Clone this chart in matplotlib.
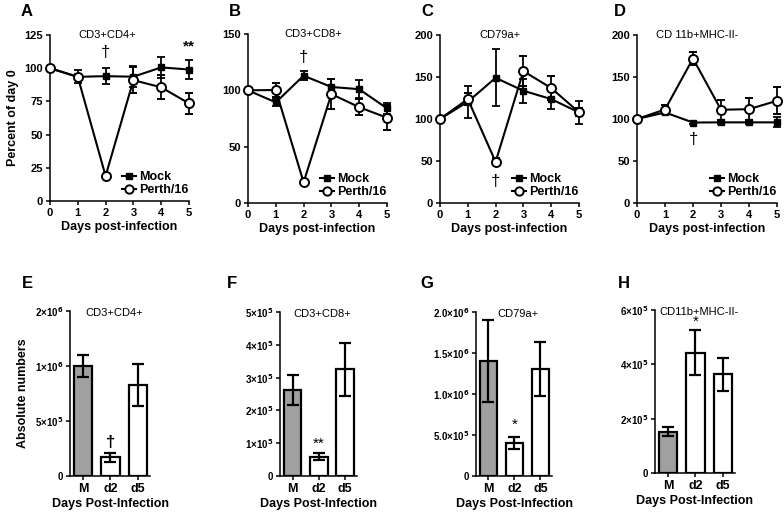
import matplotlib.pyplot as plt
from matplotlib.lines import Line2D
import numpy as np

plt.rcParams['font.family'] = ['Liberation Sans', 'DejaVu Sans']
plt.rcParams['font.weight'] = 'bold'

days = [0, 1, 2, 3, 4, 5]

# top row: percent of day 0 (mean, error)
a_mock = [100, 93.5, 94, 93.6, 100.6, 99]
a_mock_err = [0, 5, 6, 8, 8, 7]
a_perth = [100, 93.4, 18.8, 91, 85.6, 73.5]
a_perth_err = [0, 2, 1, 10, 9, 8]

b_mock = [100, 89.3, 113, 103, 101, 84]
b_mock_err = [0, 3, 4, 7, 8, 5]
b_perth = [100, 100.3, 18.3, 96.7, 85, 75.7]
b_perth_err = [0, 6, 1, 13, 7, 11]

c_mock = [100, 120.5, 149, 133.6, 123.7, 107.8]
c_mock_err = [0, 19, 34, 14, 12, 14]
c_perth = [100, 123.7, 49, 157, 136.8, 108]
c_perth_err = [0, 7, 4, 18, 14, 5]

d_mock = [100, 107.8, 95.8, 96, 96, 96]
d_mock_err = [0, 2, 2, 2, 2, 6]
d_perth = [100, 111.3, 172, 111, 111.7, 121.7]
d_perth_err = [0, 5, 8, 12, 13, 16]

# bottom row: absolute numbers
groups = ['M', 'd2', 'd5']
e_vals = [1.0e6, 0.17e6, 0.83e6]
e_err = [0.1e6, 0.04e6, 0.19e6]
f_vals = [2.62e5, 0.59e5, 3.25e5]
f_err = [0.47e5, 0.11e5, 0.82e5]
g_vals = [1.40e6, 0.40e6, 1.31e6]
g_err = [0.5e6, 0.07e6, 0.33e6]
h_vals = [1.52e5, 4.43e5, 3.64e5]
h_err = [0.17e5, 0.82e5, 0.61e5]

fig = plt.figure(figsize=(7.84, 5.14), dpi=100)
W, H = 784, 514


def px_axes(x0, x1, ytop, ybot):
    return fig.add_axes([x0 / W, 1 - ybot / H, (x1 - x0) / W, (ybot - ytop) / H])


def style(ax):
    for s in ['top', 'right']:
        ax.spines[s].set_visible(False)
    for s in ['left', 'bottom']:
        ax.spines[s].set_linewidth(1.1)
    ax.tick_params(direction='out', length=3, width=1.1, labelsize=8, pad=2)
    for lab in ax.get_xticklabels() + ax.get_yticklabels():
        lab.set_fontweight('bold')


legend_handles = [
    Line2D([0], [0], color='black', lw=1.5, marker='s', ms=5, mfc='black', mec='black'),
    Line2D([0], [0], color='black', lw=1.5, marker='o', ms=6, mfc='white', mec='black', mew=1.4),
]


def line_panel(box, mock, mock_err, perth, perth_err, ymax, ystep, title, title_x, ylabel=None):
    ax = px_axes(*box)
    ax.errorbar(days, mock, yerr=mock_err, color='black', lw=1.5, marker='s', ms=5,
                mfc='black', mec='black', capsize=3, elinewidth=1.3, capthick=1.3,
                clip_on=False, zorder=3)
    ax.errorbar(days, perth, yerr=perth_err, color='black', lw=1.5, marker='o', ms=6.5,
                mfc='white', mec='black', mew=1.4, capsize=3, elinewidth=1.3, capthick=1.3,
                clip_on=False, zorder=4)
    ax.set_xlim(0, 5)
    ax.set_ylim(0, ymax)
    ax.set_xticks(days)
    ax.set_yticks(np.arange(0, ymax + 1, ystep))
    style(ax)
    ax.set_xlabel('Days post-infection', fontsize=9, fontweight='bold', labelpad=2)
    if ylabel:
        ax.set_ylabel(ylabel, fontsize=9, fontweight='bold', labelpad=4)
    ax.text(title_x, 1.0, title, transform=ax.transAxes, ha='center', va='center',
            fontsize=8, fontweight='normal')
    ax.legend(legend_handles, ['Mock', 'Perth/16'], loc='lower left',
              bbox_to_anchor=(0.52, 0.03), frameon=False, prop={'size': 9, 'weight': 'bold'},
              handlelength=1.1, handletextpad=0.25, labelspacing=0.05,
              borderpad=0, borderaxespad=0)
    return ax


def bar_panel(box, vals, err, ymax, yticks, ylabels, title, ylabel=None):
    ax = px_axes(*box)
    x = np.arange(len(groups))
    ax.bar(x, vals, width=0.67, color=['#a0a0a0', 'white', 'white'], edgecolor='black',
           linewidth=1.6, zorder=2)
    ax.errorbar(x, vals, yerr=err, fmt='none', ecolor='black', elinewidth=1.6,
                capsize=4, capthick=1.6, zorder=3)
    ax.set_xlim(-0.48, 2.45)
    ax.set_ylim(0, ymax)
    ax.set_xticks(x)
    ax.set_xticklabels(groups)
    ax.set_yticks(yticks)
    ax.set_yticklabels(ylabels)
    style(ax)
    ax.tick_params(axis='x', labelsize=9)
    ax.tick_params(axis='y', labelsize=7)
    ax.set_xlabel('Days Post-Infection', fontsize=9, fontweight='bold', labelpad=2)
    if ylabel:
        ax.set_ylabel(ylabel, fontsize=9, fontweight='bold', labelpad=4)
    ax.text(0.55, 0.99, title, transform=ax.transAxes, ha='center', va='center',
            fontsize=8, fontweight='normal')
    return ax


axA = line_panel((50, 189, 35, 201), a_mock, a_mock_err, a_perth, a_perth_err, 125, 25,
                 'CD3+CD4+', 0.41, ylabel='Percent of day 0')
axA.text(2, 112, '†', ha='center', va='center', fontsize=12, fontweight='normal')
axA.text(5, 116, '**', ha='center', va='center', fontsize=11)

axB = line_panel((248, 387, 34, 203), b_mock, b_mock_err, b_perth, b_perth_err, 150, 50,
                 'CD3+CD8+', 0.47)
axB.text(2, 129, '†', ha='center', va='center', fontsize=12, fontweight='normal')

axC = line_panel((440, 579, 35, 203), c_mock, c_mock_err, c_perth, c_perth_err, 200, 50,
                 'CD79a+', 0.43)
axC.text(2, 25, '†', ha='center', va='center', fontsize=12, fontweight='normal')

axD = line_panel((637, 777, 35, 203), d_mock, d_mock_err, d_perth, d_perth_err, 200, 50,
                 'CD 11b+MHC-II-', 0.43)
axD.text(2, 75, '†', ha='center', va='center', fontsize=12, fontweight='normal')

axE = bar_panel((70, 150, 311, 476), e_vals, e_err, 1.5e6, [0, 5e5, 1e6, 1.5e6],
                ['0', '5×10$^5$', '1×10$^6$', '2×10$^6$'], 'CD3+CD4+', ylabel='Absolute numbers')
axE.text(1, 0.30e6, '†', ha='center', va='center', fontsize=12)

axF = bar_panel((280, 357, 312, 476), f_vals, f_err, 5e5, [0, 1e5, 2e5, 3e5, 4e5, 5e5],
                ['0', '1×10$^5$', '2×10$^5$', '3×10$^5$', '4×10$^5$', '5×10$^5$'], 'CD3+CD8+')
axF.text(1, 0.98e5, '**', ha='center', va='center', fontsize=11, fontweight='normal')

axG = bar_panel((476, 552, 312, 476), g_vals, g_err, 2.0e6, [0, 5e5, 1e6, 1.5e6, 2e6],
                ['0', '5.0×10$^5$', '1.0×10$^6$', '1.5×10$^6$', '2.0×10$^6$'], 'CD79a+')
axG.text(1, 0.62e6, '*', ha='center', va='center', fontsize=11, fontweight='normal')

axH = bar_panel((655, 735, 310, 473), h_vals, h_err, 6e5, [0, 2e5, 4e5, 6e5],
                ['0', '2×10$^5$', '4×10$^5$', '6×10$^5$'], 'CD11b+MHC-II-')
axH.text(1, 5.55e5, '*', ha='center', va='center', fontsize=11, fontweight='normal')

for letter, (x, y) in zip('ABCDEFGH', [(27, 11), (235, 11), (427, 12), (620, 11),
                                       (27, 284), (232, 284), (427, 284), (624, 284)]):
    fig.text(x / W, 1 - y / H, letter, ha='center', va='center', fontsize=12, fontweight='bold')

fig.savefig('out.png', dpi=100, facecolor='white')
